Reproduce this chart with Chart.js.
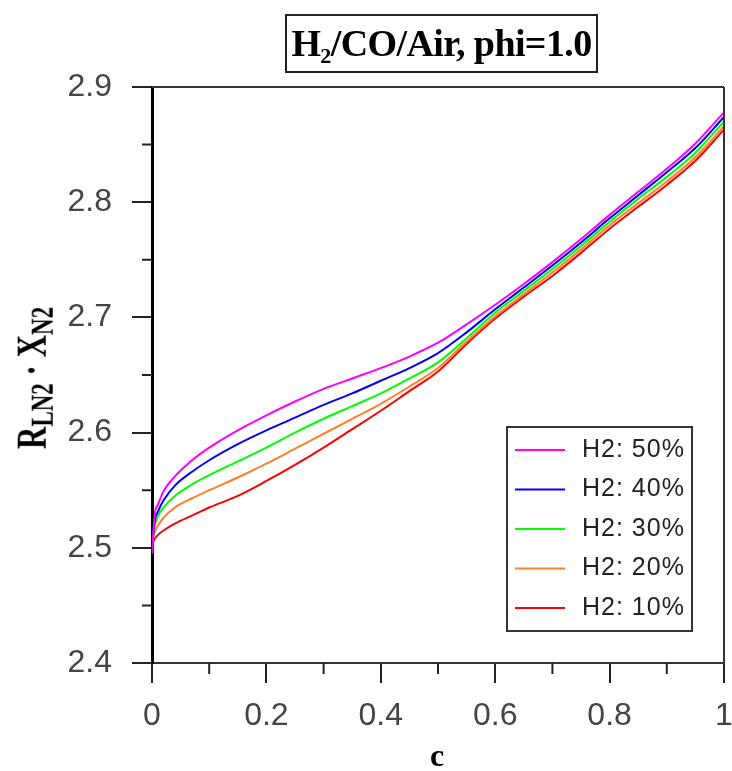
<!DOCTYPE html>
<html>
<head>
<meta charset="utf-8">
<script src="https://cdn.jsdelivr.net/npm/chart.js@4.4.1/dist/chart.umd.min.js"></script>
<style>
  body { margin: 0; background: #fff; }
  #wrap { position: relative; width: 732px; height: 771px; }
  #title {
    position: absolute; left: 285px; top: 14px; width: 309px; height: 55px;
    border: 2px solid #222; box-sizing: content-box;
    font: bold 38px "Liberation Serif", serif; color: #000;
    text-align: center; line-height: 55px; white-space: nowrap; letter-spacing: -0.6px;
  }
  #title sub { font-size: 22px; vertical-align: -7px; line-height: 0; }
  #ylabel {
    position: absolute; left: 32px; top: 378px;
    transform: translate(-50%, -50%) rotate(-90deg) scaleY(1.33);
    font: bold 31px "Liberation Serif", serif; color: #000; white-space: nowrap;
    line-height: 31px;
  }
  #ylabel sub { font-size: 23px; vertical-align: -5px; line-height: 0; }
  #xlabel {
    position: absolute; left: 437px; top: 755px; transform: translate(-50%, -50%);
    font: bold 32px "Liberation Serif", serif; color: #000;
  }
</style>
</head>
<body>
<div id="wrap">
  <canvas id="chart" width="732" height="771"></canvas>
  <div id="title">H<sub>2</sub>/CO/Air, phi=1.0</div>
  <div id="ylabel">R<sub>LN2</sub> · X<sub>N2</sub></div>
  <div id="xlabel">c</div>
</div>
<script>
// progress variable c
var cValues = [0, 0.005, 0.01, 0.02, 0.04, 0.07, 0.1, 0.15, 0.2, 0.25, 0.3, 0.35, 0.4,
  0.45, 0.5, 0.55, 0.6, 0.65, 0.7, 0.75, 0.8, 0.85, 0.9, 0.95, 1];

var h2_50 = [2.495, 2.530, 2.537, 2.549, 2.562, 2.576, 2.587, 2.602, 2.615, 2.627, 2.638, 2.647, 2.656,
  2.666, 2.678, 2.694, 2.711, 2.729, 2.748, 2.768, 2.789, 2.809, 2.829, 2.851, 2.878];
var h2_40 = [2.500, 2.524, 2.531, 2.541, 2.554, 2.566, 2.576, 2.590, 2.602, 2.613, 2.624, 2.634, 2.645,
  2.656, 2.669, 2.687, 2.707, 2.726, 2.745, 2.765, 2.786, 2.806, 2.826, 2.847, 2.874];
var h2_30 = [2.503, 2.520, 2.527, 2.535, 2.545, 2.555, 2.563, 2.575, 2.587, 2.600, 2.612, 2.623, 2.634,
  2.647, 2.661, 2.682, 2.704, 2.723, 2.742, 2.762, 2.783, 2.803, 2.822, 2.843, 2.870];
var h2_20 = [2.505, 2.514, 2.519, 2.526, 2.535, 2.543, 2.550, 2.561, 2.573, 2.586, 2.599, 2.612, 2.625,
  2.640, 2.656, 2.679, 2.701, 2.720, 2.739, 2.759, 2.780, 2.799, 2.818, 2.839, 2.866];
var h2_10 = [2.503, 2.508, 2.511, 2.515, 2.521, 2.528, 2.535, 2.545, 2.558, 2.572, 2.587, 2.603, 2.619,
  2.636, 2.653, 2.677, 2.699, 2.718, 2.736, 2.756, 2.777, 2.796, 2.815, 2.836, 2.863];

var seriesLabels = ["H2: 50%", "H2: 40%", "H2: 30%", "H2: 20%", "H2: 10%"];
var seriesColors = ["#ff00ff", "#0000ff", "#00ff00", "#ff7f27", "#ff0000"];

var xMajorTicks = ["0", "0.2", "0.4", "0.6", "0.8", "1"];
var yMajorTicks = ["2.4", "2.5", "2.6", "2.7", "2.8", "2.9"];

function toPoints(arr) {
  return cValues.map(function (c, i) { return { x: c, y: arr[i] }; });
}
function isMajor(list, v) {
  return list.indexOf(String(+v.toFixed(2))) !== -1;
}

var frameAndMinor = {
  id: "frameAndMinor",
  afterDraw: function (chart) {
    var ctx = chart.ctx, a = chart.chartArea;
    var xs = chart.scales.x, ys = chart.scales.y;
    ctx.save();
    ctx.strokeStyle = "#333";
    ctx.lineWidth = 2;
    ctx.beginPath();
    ctx.moveTo(a.left, a.top); ctx.lineTo(a.right, a.top);
    ctx.moveTo(a.right, a.top); ctx.lineTo(a.right, a.bottom);
    ctx.stroke();
    // minor ticks
    ctx.strokeStyle = "#222";
    ctx.beginPath();
    xs.ticks.forEach(function (t) {
      if (!isMajor(xMajorTicks, t.value)) {
        var px = xs.getPixelForValue(t.value);
        ctx.moveTo(px, a.bottom); ctx.lineTo(px, a.bottom + 11);
      }
    });
    ys.ticks.forEach(function (t) {
      if (!isMajor(yMajorTicks, t.value)) {
        var py = ys.getPixelForValue(t.value);
        ctx.moveTo(a.left, py); ctx.lineTo(a.left - 10, py);
      }
    });
    ctx.stroke();

    // legend box inside plot
    var bx = 507, by = 427, bw = 185, bh = 204;
    ctx.lineWidth = 2;
    ctx.strokeStyle = "#333";
    ctx.strokeRect(bx, by, bw, bh);
    ctx.font = "25px 'Liberation Sans', Arial, sans-serif";
    ctx.letterSpacing = "1px";
    ctx.textBaseline = "middle";
    ctx.fillStyle = "#222";
    chart.data.datasets.forEach(function (ds, i) {
      var ry = 450 + i * 39.5;
      ctx.strokeStyle = ds.borderColor;
      ctx.lineWidth = 2;
      ctx.beginPath();
      ctx.moveTo(515, ry); ctx.lineTo(565, ry);
      ctx.stroke();
      ctx.fillText(ds.label, 582, ry);
    });
    ctx.restore();
  }
};

var datasets = [h2_50, h2_40, h2_30, h2_20, h2_10].map(function (arr, i) {
  return {
    label: seriesLabels[i],
    data: toPoints(arr),
    borderColor: seriesColors[i],
    backgroundColor: seriesColors[i],
    borderWidth: 2,
    pointRadius: 0,
    cubicInterpolationMode: "monotone",
    fill: false
  };
});

var tickFont = { family: "'Liberation Sans', Arial, sans-serif", size: 32 };

new Chart(document.getElementById("chart").getContext("2d"), {
  type: "line",
  data: { datasets: datasets },
  options: {
    responsive: false,
    animation: false,
    layout: { padding: { top: 87, right: 8, left: 0, bottom: 0 } },
    plugins: { legend: { display: false }, tooltip: { enabled: false } },
    scales: {
      x: {
        type: "linear",
        min: 0,
        max: 1,
        afterFit: function (s) { s.height = 108; s.paddingLeft = 0; s.paddingRight = 0; },
        border: { display: true, color: "#333", width: 2 },
        grid: {
          drawOnChartArea: false,
          tickLength: 20,
          tickColor: function (c) { return isMajor(xMajorTicks, c.tick.value) ? "#222" : "rgba(0,0,0,0)"; },
          lineWidth: 2
        },
        ticks: {
          stepSize: 0.1,
          padding: 14,
          color: "#444",
          font: tickFont,
          maxRotation: 0,
          autoSkip: false,
          callback: function (v) {
            var s = String(+(+v).toFixed(2));
            return xMajorTicks.indexOf(s) !== -1 ? s : "";
          }
        }
      },
      y: {
        min: 2.4,
        max: 2.9,
        afterFit: function (s) { s.width = 152; s.paddingTop = 0; s.paddingBottom = 0; },
        border: { display: true, color: "#000", width: 3 },
        grid: {
          drawOnChartArea: false,
          tickLength: 20,
          tickColor: function (c) { return isMajor(yMajorTicks, c.tick.value) ? "#222" : "rgba(0,0,0,0)"; },
          lineWidth: 2
        },
        ticks: {
          stepSize: 0.05,
          padding: 20,
          color: "#444",
          font: tickFont,
          autoSkip: false,
          callback: function (v) {
            var s = (+v).toFixed(1);
            return isMajor(yMajorTicks, v) ? s : "";
          }
        }
      }
    }
  },
  plugins: [frameAndMinor]
});
</script>
</body>
</html>
